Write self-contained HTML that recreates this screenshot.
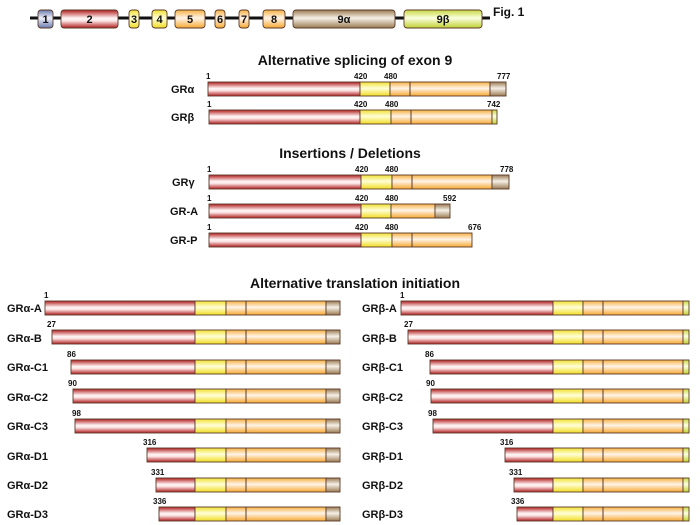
<!DOCTYPE html>
<html><head><meta charset="utf-8"><style>
html,body{margin:0;padding:0;background:#fff}
svg{display:block}
text{font-family:"Liberation Sans",Arial,sans-serif;font-weight:bold;fill:#111}
.n{font-size:8px}
.l{font-size:11px}
.t{font-size:14px}
rect{stroke:#5a3a2a;stroke-width:0.9}
</style></head><body>
<svg width="700" height="525" viewBox="0 0 700 525" xmlns="http://www.w3.org/2000/svg">
<defs>
<linearGradient id="r" x1="0" y1="0" x2="0" y2="1"><stop offset="0" stop-color="#b01c1c"/><stop offset=".45" stop-color="#fff4f4"/><stop offset=".6" stop-color="#fde8e8"/><stop offset="1" stop-color="#b01c1c"/></linearGradient>
<linearGradient id="y" x1="0" y1="0" x2="0" y2="1"><stop offset="0" stop-color="#f0e030"/><stop offset=".45" stop-color="#ffffd8"/><stop offset="1" stop-color="#f0dc20"/></linearGradient>
<linearGradient id="o" x1="0" y1="0" x2="0" y2="1"><stop offset="0" stop-color="#f6b040"/><stop offset=".45" stop-color="#fff4e8"/><stop offset="1" stop-color="#f6a830"/></linearGradient>
<linearGradient id="b" x1="0" y1="0" x2="0" y2="1"><stop offset="0" stop-color="#9a7a50"/><stop offset=".45" stop-color="#f6f0e8"/><stop offset="1" stop-color="#9a7a50"/></linearGradient>
<linearGradient id="g" x1="0" y1="0" x2="0" y2="1"><stop offset="0" stop-color="#c8d840"/><stop offset=".45" stop-color="#fbffe0"/><stop offset="1" stop-color="#c0d030"/></linearGradient>
<linearGradient id="bl" x1="0" y1="0" x2="0" y2="1"><stop offset="0" stop-color="#6a7ab0"/><stop offset=".45" stop-color="#eef0fa"/><stop offset="1" stop-color="#6a7ab0"/></linearGradient>
</defs>

<!-- top gene -->
<line x1="30" y1="18" x2="490" y2="18" stroke="#111" stroke-width="3"/>
<g>
<rect x="38" y="10" width="15" height="18" rx="3" fill="url(#bl)"/>
<rect x="61" y="10" width="57" height="18" rx="3" fill="url(#r)"/>
<rect x="129" y="10" width="10" height="18" rx="3" fill="url(#y)"/>
<rect x="152" y="10" width="15" height="18" rx="3" fill="url(#y)"/>
<rect x="175" y="10" width="30" height="18" rx="3" fill="url(#o)"/>
<rect x="215" y="10" width="10" height="18" rx="3" fill="url(#o)"/>
<rect x="239" y="10" width="10" height="18" rx="3" fill="url(#o)"/>
<rect x="263" y="10" width="22" height="18" rx="3" fill="url(#o)"/>
<rect x="293" y="10" width="102" height="18" rx="3" fill="url(#b)"/>
<rect x="404" y="10" width="78" height="18" rx="3" fill="url(#g)"/>
</g>
<g class="l" text-anchor="middle">
<text x="45.5" y="23">1</text><text x="89.5" y="23">2</text><text x="134" y="23">3</text><text x="159.5" y="23">4</text><text x="190" y="23">5</text><text x="220" y="23">6</text><text x="244" y="23">7</text><text x="274" y="23">8</text><text x="344" y="23">9α</text><text x="443" y="23">9β</text>
</g>
<text x="493" y="16" style="font-size:12px">Fig. 1</text>

<text class="t" x="355" y="65" text-anchor="middle">Alternative splicing of exon 9</text>
<!-- GRa -->
<text class="l" x="171" y="93">GRα</text>
<rect x="208" y="82" width="152" height="14" fill="url(#r)"/><rect x="360" y="82" width="30" height="14" fill="url(#y)"/><rect x="390" y="82" width="100" height="14" fill="url(#o)"/><line x1="410" y1="82" x2="410" y2="96" stroke="#5a3a2a"/><rect x="490" y="82" width="16" height="14" fill="url(#b)"/>
<text class="n" x="206" y="79">1</text><text class="n" x="354" y="79">420</text><text class="n" x="384" y="79">480</text><text class="n" x="497" y="79">777</text>
<!-- GRb -->
<text class="l" x="171" y="121">GRβ</text>
<rect x="209" y="110" width="151" height="14" fill="url(#r)"/><rect x="360" y="110" width="31" height="14" fill="url(#y)"/><rect x="391" y="110" width="101" height="14" fill="url(#o)"/><line x1="411" y1="110" x2="411" y2="124" stroke="#5a3a2a"/><rect x="492" y="110" width="5" height="14" fill="url(#g)"/>
<text class="n" x="207" y="107">1</text><text class="n" x="354" y="107">420</text><text class="n" x="385" y="107">480</text><text class="n" x="487" y="107">742</text>

<text class="t" x="350" y="158" text-anchor="middle">Insertions / Deletions</text>
<text class="l" x="172" y="186">GRγ</text>
<rect x="209" y="175" width="152" height="14" fill="url(#r)"/><rect x="361" y="175" width="31" height="14" fill="url(#y)"/><rect x="392" y="175" width="100" height="14" fill="url(#o)"/><line x1="412" y1="175" x2="412" y2="189" stroke="#5a3a2a"/><rect x="492" y="175" width="17" height="14" fill="url(#b)"/>
<text class="n" x="207" y="172">1</text><text class="n" x="355" y="172">420</text><text class="n" x="385" y="172">480</text><text class="n" x="500" y="172">778</text>
<text class="l" x="170" y="215">GR-A</text>
<rect x="209" y="204" width="152" height="14" fill="url(#r)"/><rect x="361" y="204" width="30" height="14" fill="url(#y)"/><rect x="391" y="204" width="44" height="14" fill="url(#o)"/><rect x="435" y="204" width="15" height="14" fill="url(#b)"/>
<text class="n" x="207" y="201">1</text><text class="n" x="355" y="201">420</text><text class="n" x="385" y="201">480</text><text class="n" x="443" y="201">592</text>
<text class="l" x="170" y="244">GR-P</text>
<rect x="209" y="233" width="152" height="14" fill="url(#r)"/><rect x="361" y="233" width="31" height="14" fill="url(#y)"/><rect x="392" y="233" width="80" height="14" fill="url(#o)"/><line x1="412" y1="233" x2="412" y2="247" stroke="#5a3a2a"/>
<text class="n" x="207" y="230">1</text><text class="n" x="355" y="230">420</text><text class="n" x="385" y="230">480</text><text class="n" x="468" y="230">676</text>

<text class="t" x="355" y="288" text-anchor="middle">Alternative translation initiation</text>

<!-- left alpha rows -->
<g>
<text class="l" x="7" y="312">GRα-A</text><text class="n" x="44" y="298">1</text>
<rect x="45" y="301" width="150" height="14" fill="url(#r)"/><rect x="195" y="301" width="31" height="14" fill="url(#y)"/><rect x="226" y="301" width="100" height="14" fill="url(#o)"/><line x1="246" y1="301" x2="246" y2="315" stroke="#5a3a2a"/><rect x="326" y="301" width="14" height="14" fill="url(#b)"/>
<text class="l" x="7" y="342">GRα-B</text><text class="n" x="47" y="327">27</text>
<rect x="52" y="330" width="143" height="14" fill="url(#r)"/><rect x="195" y="330" width="31" height="14" fill="url(#y)"/><rect x="226" y="330" width="100" height="14" fill="url(#o)"/><line x1="246" y1="330" x2="246" y2="344" stroke="#5a3a2a"/><rect x="326" y="330" width="14" height="14" fill="url(#b)"/>
<text class="l" x="7" y="371">GRα-C1</text><text class="n" x="67" y="357">86</text>
<rect x="71" y="360" width="124" height="14" fill="url(#r)"/><rect x="195" y="360" width="31" height="14" fill="url(#y)"/><rect x="226" y="360" width="100" height="14" fill="url(#o)"/><line x1="246" y1="360" x2="246" y2="374" stroke="#5a3a2a"/><rect x="326" y="360" width="14" height="14" fill="url(#b)"/>
<text class="l" x="7" y="401">GRα-C2</text><text class="n" x="68" y="386">90</text>
<rect x="73" y="389" width="122" height="14" fill="url(#r)"/><rect x="195" y="389" width="31" height="14" fill="url(#y)"/><rect x="226" y="389" width="100" height="14" fill="url(#o)"/><line x1="246" y1="389" x2="246" y2="403" stroke="#5a3a2a"/><rect x="326" y="389" width="14" height="14" fill="url(#b)"/>
<text class="l" x="7" y="430">GRα-C3</text><text class="n" x="72" y="416">98</text>
<rect x="75" y="419" width="120" height="14" fill="url(#r)"/><rect x="195" y="419" width="31" height="14" fill="url(#y)"/><rect x="226" y="419" width="100" height="14" fill="url(#o)"/><line x1="246" y1="419" x2="246" y2="433" stroke="#5a3a2a"/><rect x="326" y="419" width="14" height="14" fill="url(#b)"/>
<text class="l" x="7" y="460">GRα-D1</text><text class="n" x="143" y="445">316</text>
<rect x="147" y="448" width="48" height="14" fill="url(#r)"/><rect x="195" y="448" width="31" height="14" fill="url(#y)"/><rect x="226" y="448" width="100" height="14" fill="url(#o)"/><line x1="246" y1="448" x2="246" y2="462" stroke="#5a3a2a"/><rect x="326" y="448" width="14" height="14" fill="url(#b)"/>
<text class="l" x="7" y="489">GRα-D2</text><text class="n" x="151" y="475">331</text>
<rect x="156" y="478" width="39" height="14" fill="url(#r)"/><rect x="195" y="478" width="31" height="14" fill="url(#y)"/><rect x="226" y="478" width="100" height="14" fill="url(#o)"/><line x1="246" y1="478" x2="246" y2="492" stroke="#5a3a2a"/><rect x="326" y="478" width="14" height="14" fill="url(#b)"/>
<text class="l" x="7" y="518">GRα-D3</text><text class="n" x="153" y="504">336</text>
<rect x="159" y="507" width="36" height="14" fill="url(#r)"/><rect x="195" y="507" width="31" height="14" fill="url(#y)"/><rect x="226" y="507" width="100" height="14" fill="url(#o)"/><line x1="246" y1="507" x2="246" y2="521" stroke="#5a3a2a"/><rect x="326" y="507" width="14" height="14" fill="url(#b)"/>
</g>

<!-- right beta rows -->
<g>
<text class="l" x="362" y="312">GRβ-A</text><text class="n" x="400" y="298">1</text>
<rect x="401" y="301" width="152" height="14" fill="url(#r)"/><rect x="553" y="301" width="30" height="14" fill="url(#y)"/><rect x="583" y="301" width="100" height="14" fill="url(#o)"/><line x1="603" y1="301" x2="603" y2="315" stroke="#5a3a2a"/><rect x="683" y="301" width="6" height="14" fill="url(#g)"/>
<text class="l" x="362" y="342">GRβ-B</text><text class="n" x="404" y="327">27</text>
<rect x="408" y="330" width="145" height="14" fill="url(#r)"/><rect x="553" y="330" width="30" height="14" fill="url(#y)"/><rect x="583" y="330" width="100" height="14" fill="url(#o)"/><line x1="603" y1="330" x2="603" y2="344" stroke="#5a3a2a"/><rect x="683" y="330" width="6" height="14" fill="url(#g)"/>
<text class="l" x="362" y="371">GRβ-C1</text><text class="n" x="425" y="357">86</text>
<rect x="430" y="360" width="123" height="14" fill="url(#r)"/><rect x="553" y="360" width="30" height="14" fill="url(#y)"/><rect x="583" y="360" width="100" height="14" fill="url(#o)"/><line x1="603" y1="360" x2="603" y2="374" stroke="#5a3a2a"/><rect x="683" y="360" width="6" height="14" fill="url(#g)"/>
<text class="l" x="362" y="401">GRβ-C2</text><text class="n" x="426" y="386">90</text>
<rect x="431" y="389" width="122" height="14" fill="url(#r)"/><rect x="553" y="389" width="30" height="14" fill="url(#y)"/><rect x="583" y="389" width="100" height="14" fill="url(#o)"/><line x1="603" y1="389" x2="603" y2="403" stroke="#5a3a2a"/><rect x="683" y="389" width="6" height="14" fill="url(#g)"/>
<text class="l" x="362" y="430">GRβ-C3</text><text class="n" x="428" y="416">98</text>
<rect x="433" y="419" width="120" height="14" fill="url(#r)"/><rect x="553" y="419" width="30" height="14" fill="url(#y)"/><rect x="583" y="419" width="100" height="14" fill="url(#o)"/><line x1="603" y1="419" x2="603" y2="433" stroke="#5a3a2a"/><rect x="683" y="419" width="6" height="14" fill="url(#g)"/>
<text class="l" x="362" y="460">GRβ-D1</text><text class="n" x="500" y="445">316</text>
<rect x="505" y="448" width="48" height="14" fill="url(#r)"/><rect x="553" y="448" width="30" height="14" fill="url(#y)"/><rect x="583" y="448" width="100" height="14" fill="url(#o)"/><line x1="603" y1="448" x2="603" y2="462" stroke="#5a3a2a"/><rect x="683" y="448" width="6" height="14" fill="url(#g)"/>
<text class="l" x="362" y="489">GRβ-D2</text><text class="n" x="509" y="475">331</text>
<rect x="514" y="478" width="39" height="14" fill="url(#r)"/><rect x="553" y="478" width="30" height="14" fill="url(#y)"/><rect x="583" y="478" width="100" height="14" fill="url(#o)"/><line x1="603" y1="478" x2="603" y2="492" stroke="#5a3a2a"/><rect x="683" y="478" width="6" height="14" fill="url(#g)"/>
<text class="l" x="362" y="518">GRβ-D3</text><text class="n" x="511" y="504">336</text>
<rect x="517" y="507" width="36" height="14" fill="url(#r)"/><rect x="553" y="507" width="30" height="14" fill="url(#y)"/><rect x="583" y="507" width="100" height="14" fill="url(#o)"/><line x1="603" y1="507" x2="603" y2="521" stroke="#5a3a2a"/><rect x="683" y="507" width="6" height="14" fill="url(#g)"/>
</g>
</svg>
</body></html>
